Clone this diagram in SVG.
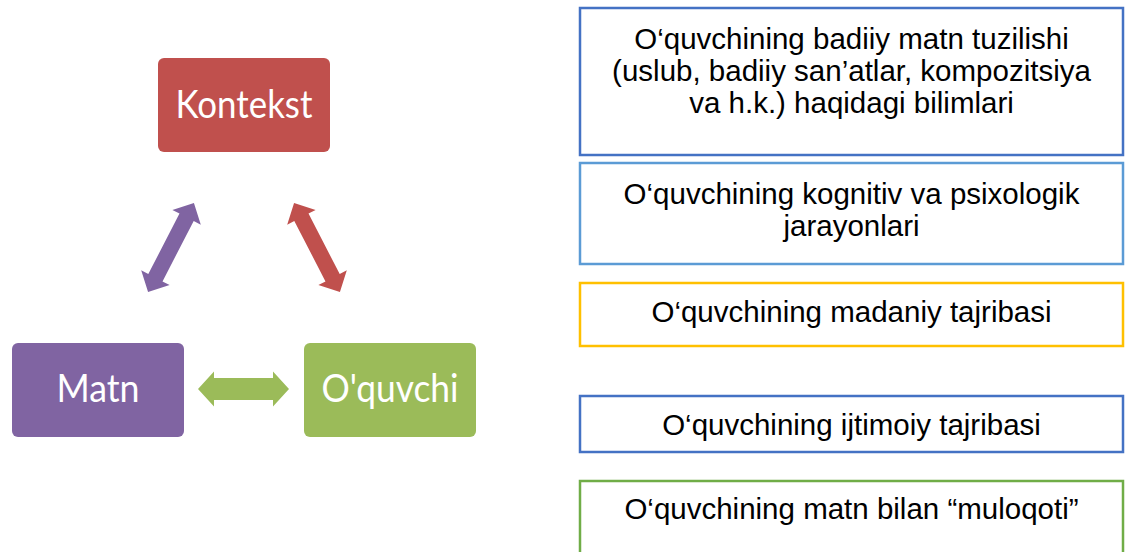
<svg xmlns="http://www.w3.org/2000/svg" width="1130" height="552" viewBox="0 0 1130 552">
<style>
.node-label{font-family:Lato,"Open Sans",sans-serif;font-size:38px;fill:#ffffff;text-anchor:middle}
.box{fill:#ffffff;stroke-width:2.5}
.box-text{font-family:"Liberation Sans",Arial,sans-serif;font-size:29.5px;fill:#000000;text-anchor:middle}
</style>
<defs>
<polygon id="dbl-long" points="-50,0 -34,-16 -34,-8 34,-8 34,-16 50,0 34,16 34,8 -34,8 -34,16"/>
<polygon id="dbl-short" points="-45.5,0 -29.5,-17.5 -29.5,-11 29.5,-11 29.5,-17.5 45.5,0 29.5,17.5 29.5,11 -29.5,11 -29.5,17.5"/>
</defs>
<rect width="1130" height="552" fill="#ffffff"/>
<g id="kontekst">
<rect x="158" y="58" width="172" height="94" rx="6" fill="#C0504D"/>
<text class="node-label" x="244" y="118" textLength="137" lengthAdjust="spacingAndGlyphs">Kontekst</text>
</g>
<g id="matn">
<rect x="12" y="343" width="172" height="94" rx="6" fill="#8064A2"/>
<text class="node-label" x="98" y="402" textLength="83" lengthAdjust="spacingAndGlyphs">Matn</text>
</g>
<g id="oquvchi">
<rect x="304" y="343" width="172" height="94" rx="6" fill="#9BBB59"/>
<text class="node-label" x="390" y="402" textLength="137" lengthAdjust="spacingAndGlyphs">O'quvchi</text>
</g>
<g id="connectors">
<use href="#dbl-long" transform="translate(171,247.5) rotate(-62.7)" fill="#8064A2"/>
<use href="#dbl-long" transform="translate(317,247.5) rotate(62.7)" fill="#C0504D"/>
<use href="#dbl-short" transform="translate(243.5,389)" fill="#9BBB59"/>
</g>
<g id="box1">
<rect class="box" x="580" y="8" width="543" height="147" stroke="#4472C4"/>
<text class="box-text" x="851.5" y="49">O‘quvchining badiiy matn tuzilishi</text>
<text class="box-text" x="851.5" y="81">(uslub, badiiy san’atlar, kompozitsiya</text>
<text class="box-text" x="851.5" y="113">va h.k.) haqidagi bilimlari</text>
</g>
<g id="box2">
<rect class="box" x="580" y="163" width="543" height="101" stroke="#5B9BD5"/>
<text class="box-text" x="851.5" y="204">O‘quvchining kognitiv va psixologik</text>
<text class="box-text" x="851.5" y="236">jarayonlari</text>
</g>
<g id="box3">
<rect class="box" x="580" y="283" width="543" height="63" stroke="#FFC000"/>
<text class="box-text" x="851.5" y="322">O‘quvchining madaniy tajribasi</text>
</g>
<g id="box4">
<rect class="box" x="580" y="396" width="543" height="56" stroke="#4472C4"/>
<text class="box-text" x="851.5" y="435">O‘quvchining ijtimoiy tajribasi</text>
</g>
<g id="box5">
<rect class="box" x="580" y="481" width="543" height="80" stroke="#70AD47"/>
<text class="box-text" x="851.5" y="519">O‘quvchining matn bilan “muloqoti”</text>
</g>
</svg>
